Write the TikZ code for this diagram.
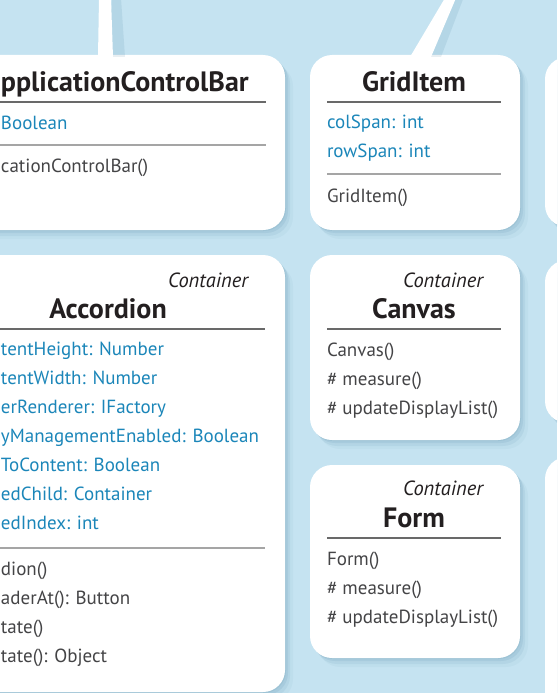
\documentclass[tikz,border=0pt]{standalone}
\usepackage{fontspec}
\setmainfont{PT Sans}
\usetikzlibrary{shadows,calc,positioning}
\definecolor{bgblue}{RGB}{197,227,241}
\definecolor{attrblue}{RGB}{27,134,185}
\definecolor{opgray}{RGB}{68,68,70}
\definecolor{titleblack}{RGB}{35,31,32}
\definecolor{rulegray}{RGB}{105,105,105}
\definecolor{rulelight}{RGB}{165,165,165}
\definecolor{shadowblue}{RGB}{40,100,135}
\tikzset{
	every node/.style={
		inner sep=0pt,
		outer sep=0pt
	},
	classbox/.style={
		shape=rectangle,
		fill=white,
		rounded corners=22pt,
		drop shadow={shadow xshift=1pt, shadow yshift=-1pt, opacity=.08, fill=shadowblue},
		drop shadow={shadow xshift=3pt, shadow yshift=-3pt, opacity=.08, fill=shadowblue},
		drop shadow={shadow xshift=5pt, shadow yshift=-6pt, opacity=.07, fill=shadowblue},
		drop shadow={shadow xshift=8pt, shadow yshift=-9pt, opacity=.04, fill=shadowblue}
	},
	classname/.style={
		font=\fontsize{28}{32}\selectfont\bfseries,
		text=titleblack,
		anchor=base
	},
	stereo/.style={
		font=\fontsize{20.5}{24}\selectfont\itshape,
		text=titleblack,
		anchor=base east
	},
	attr/.style={
		font=\fontsize{19}{22}\selectfont,
		text=attrblue,
		anchor=base west
	},
	oper/.style={
		font=\fontsize{19}{22}\selectfont,
		text=opgray,
		anchor=base west
	},
	titlerule/.style={rulegray, line width=1.3pt},
	partrule/.style={rulelight, line width=1.2pt},
	link/.style={fill=white},
	linkshade/.style={fill=shadowblue, opacity=.1}
}

\begin{document}
\begin{tikzpicture}[x=1pt,y=-1pt]

\fill[bgblue] (0,0) rectangle (557,693);
\useasboundingbox (0,0) rectangle (557,693);
\clip (0,0) rectangle (557,693);

% top ends of the links
\coordinate (appbar up) at (105,-2);
\coordinate (griditem up) at (450.5,-2);

% class boxes
\node[classbox, minimum width=352pt, minimum height=175pt] (appbar) at (109,142.5) {};
\node[classbox, minimum width=210pt, minimum height=175pt] (griditem) at (415,142.5) {};
\node[classbox, minimum width=210pt, minimum height=170pt] (rightA) at (650,142) {};
\node[classbox, minimum width=352pt, minimum height=437pt] (accordion) at (109,473.5) {};
\node[classbox, minimum width=210pt, minimum height=185pt] (canvas) at (415,347.5) {};
\node[classbox, minimum width=210pt, minimum height=163pt] (rightB) at (650,341.5) {};
\node[classbox, minimum width=210pt, minimum height=193pt] (form) at (415,561.5) {};
\node[classbox, minimum width=210pt, minimum height=343pt] (rightC) at (650,628.5) {};

% links
\fill[linkshade] ($(appbar.north)+(-1,2)$) -- ($(appbar up)+(7,0)$) -- ($(appbar up)+(16,0)$) -- ($(appbar.north)+(16,2)$) -- cycle;
\fill[link] ($(appbar.north)+(-11,2)$) -- ($(appbar up)+(-6,0)$) -- ($(appbar up)+(6,0)$) -- ($(appbar.north)+(4,2)$) -- cycle;
\fill[linkshade] ($(griditem.north)+(12,2)$) -- ($(griditem up)+(4,0)$) -- ($(griditem up)+(13,0)$) -- ($(griditem.north)+(26,2)$) -- cycle;
\fill[link] ($(griditem.north)+(-5,2)$) -- ($(griditem up)+(-5.5,0)$) -- ($(griditem up)+(5.5,0)$) -- ($(griditem.north)+(16,2)$) -- cycle;

% ApplicationControlBar (cut at the left edge)
\node[classname, anchor=base west] (appbar name) at (1,92) {pplicationControlBar};
\draw[titlerule] (appbar.west |- 0,102) -- (266,102);
\node[attr] (appbar dock) at (1,129) {Boolean};
\draw[partrule] (appbar.west |- 0,145) -- (266,145);
\node[oper] (appbar ctor) at (1,172) {cationControlBar()};

% GridItem
\node[classname] (griditem name) at (414,91) {GridItem};
\draw[titlerule] (327,102) -- (501,102);
\node[attr] (griditem col) at (327,128) {colSpan: int};
\node[attr] (griditem row) at (327,157) {rowSpan: int};
\draw[partrule] (327,174) -- (501,174);
\node[oper] (griditem ctor) at (327,202) {GridItem()};

% Accordion (cut at the left edge)
\node[stereo] (accordion stereo) at (248,287) {Container};
\node[classname] (accordion name) at (108,318) {Accordion};
\draw[titlerule] (accordion.west |- 0,329) -- (265,329);
\foreach \y/\txt in {355/tentHeight: Number, 384/tentWidth: Number,
	413/erRenderer: IFactory, 442/yManagementEnabled: Boolean,
	471/ToContent: Boolean, 500/edChild: Container, 529/edIndex: int}
	\node[attr] at (1,\y) {\txt};
\draw[partrule] (accordion.west |- 0,548) -- (265,548);
\foreach \y/\txt in {575/dion(), 604/aderAt(): Button,
	633/tate(), 662/tate(): Object}
	\node[oper] at (1,\y) {\txt};

% Canvas
\node[stereo] (canvas stereo) at (483,287) {Container};
\node[classname] (canvas name) at (414,318) {Canvas};
\draw[titlerule] (327,329) -- (501,329);
\node[oper] (canvas ctor) at (327,356) {Canvas()};
\node[oper] (canvas measure) at (327,385) {\# measure()};
\node[oper] (canvas update) at (327,414) {\# updateDisplayList()};

% Form
\node[stereo] (form stereo) at (483,495) {Container};
\node[classname] (form name) at (414,527) {Form};
\draw[titlerule] (327,538) -- (501,538);
\node[oper] (form ctor) at (327,565) {Form()};
\node[oper] (form measure) at (327,594) {\# measure()};
\node[oper] (form update) at (327,623) {\# updateDisplayList()};

\end{tikzpicture}
\end{document}
